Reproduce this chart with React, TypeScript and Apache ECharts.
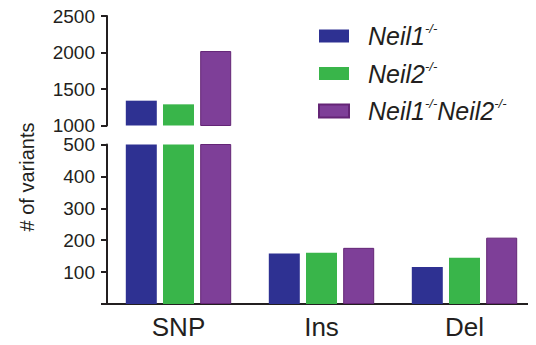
import React, { useEffect, useRef } from "react";
import * as echarts from "echarts";

// Variant types and counts per genotype
const categories = ["SNP", "Ins", "Del"];
const seriesNames = ["Neil1-/-", "Neil2-/-", "Neil1-/-Neil2-/-"];
const neil1 = [1340, 158, 116];
const neil2 = [1290, 161, 145];
const neil1neil2 = [2020, 176, 208];

// Broken y-axis: lower segment 0–500, upper segment 1000–2500
const lowerTicks = [0, 100, 200, 300, 400, 500];
const upperTicks = [1000, 1500, 2000, 2500];
const yTitle = "# of variants";

const FONT = "'Liberation Sans', Arial, Helvetica, sans-serif";
const INK = "#231F20";
const colors = ["#2E3192", "#39B54A", "#7E3F98"];
const borders = ["#2E3192", "#39B54A", "#642576"];

const legendRich: Record<string, string> = {
  "Neil1-/-": "{g|}{n|Neil1}{s|-/-}",
  "Neil2-/-": "{g|}{n|Neil2}{s|-/-}",
  "Neil1-/-Neil2-/-": "{g|}{n|Neil1}{s|-/-}{n|Neil2}{s|-/-}",
};

export default function App() {
  const ref = useRef<HTMLDivElement>(null);

  useEffect(() => {
    if (!ref.current) return;
    const chart = echarts.init(ref.current, undefined, { renderer: "svg" });
    const values = [neil1, neil2, neil1neil2];

    const yCommon = {
      type: "value" as const,
      axisLine: { show: true, lineStyle: { color: INK, width: 2 } },
      axisTick: { show: true, length: 6, lineStyle: { color: INK, width: 2 } },
      axisLabel: {
        color: INK,
        fontSize: 19,
        fontFamily: FONT,
        margin: 12,
        formatter: (v: number) => (v === 0 ? "" : String(v)),
      },
      splitLine: { show: false },
    };

    const series: any[] = [];
    values.forEach((vals, i) => {
      [0, 1].forEach((g) => {
        series.push({
          name: seriesNames[i],
          type: "bar",
          xAxisIndex: g,
          yAxisIndex: g,
          data: vals,
          barWidth: 31,
          barGap: "20%",
          clip: true,
          itemStyle: {
            color: colors[i],
            borderColor: borders[i],
            borderWidth: i === 2 ? 1 : 0,
          },
        });
      });
    });

    chart.setOption({
      animation: false,
      backgroundColor: "#ffffff",
      textStyle: { fontFamily: FONT },
      grid: [
        { left: 107, right: 0, top: 16, bottom: 219.5 },
        { left: 107, right: 0, top: 144.5, bottom: 41 },
      ],
      xAxis: [
        {
          type: "category",
          gridIndex: 0,
          data: categories,
          show: false,
        },
        {
          type: "category",
          gridIndex: 1,
          data: categories,
          axisLine: { show: true, lineStyle: { color: INK, width: 2 } },
          axisTick: { show: false },
          axisLabel: { color: INK, fontSize: 26, fontFamily: FONT, margin: 10 },
        },
      ],
      yAxis: [
        {
          ...yCommon,
          gridIndex: 0,
          min: upperTicks[0],
          max: upperTicks[upperTicks.length - 1],
          interval: 500,
        },
        {
          ...yCommon,
          gridIndex: 1,
          min: lowerTicks[0],
          max: lowerTicks[lowerTicks.length - 1],
          interval: 100,
        },
      ],
      graphic: [
        {
          type: "text",
          x: 27,
          y: 177,
          rotation: Math.PI / 2,
          style: {
            text: yTitle,
            fill: INK,
            fontSize: 20,
            fontFamily: FONT,
            align: "center",
            verticalAlign: "middle",
          },
        },
      ],
      legend: {
        orient: "vertical",
        left: 313,
        top: 17,
        itemWidth: 30,
        itemHeight: 13,
        itemGap: 11,
        icon: "rect",
        data: seriesNames,
        formatter: (name: string) => legendRich[name],
        textStyle: {
          color: INK,
          fontFamily: FONT,
          rich: {
            g: { width: 14 },
            n: { fontSize: 25, fontStyle: "italic", lineHeight: 28, fontFamily: FONT, color: INK },
            s: {
              fontSize: 13,
              fontStyle: "italic",
              lineHeight: 13,
              verticalAlign: "top",
              fontFamily: FONT,
              color: INK,
            },
          },
        },
      },
      series,
    });

    return () => chart.dispose();
  }, []);

  return <div ref={ref} style={{ width: 536, height: 345, margin: -8 }} />;
}
